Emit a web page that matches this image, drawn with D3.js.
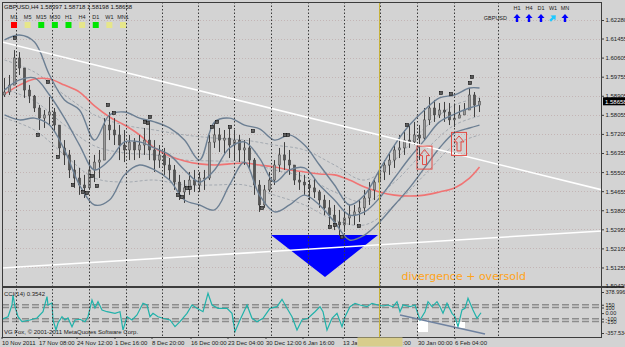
<!DOCTYPE html>
<html>
<head>
<meta charset="utf-8">
<script src="https://cdn.jsdelivr.net/npm/d3@7"></script>
<style>
  body { margin: 0; background: #d3d3d3; }
  svg { display: block; }
  text { font-family: "Liberation Sans", Arial, sans-serif; }
</style>
</head>
<body>
<div id="chart"></div>
<script>
// ---- data (GBPUSD H4) ----
const firstOpen = 1.5894;
const barHigh = [1.5970,1.5983,1.6094,1.6085,1.6005,1.5938,1.5894,1.5849,1.5827,1.5885,
  1.5836,1.5738,1.5693,1.5649,1.5604,1.5569,1.5538,1.5604,1.5627,1.5649,
  1.5791,1.5818,1.5791,1.5760,1.5738,1.5716,1.5702,1.5716,1.5747,1.5769,
  1.5693,1.5671,1.5658,1.5613,1.5582,1.5538,1.5515,1.5551,1.5560,1.5551,
  1.5560,1.5716,1.5774,1.5747,1.5738,1.5747,1.5738,1.5716,1.5693,1.5702,
  1.5613,1.5515,1.5493,1.5551,1.5604,1.5658,1.5684,1.5649,1.5582,1.5551,
  1.5538,1.5515,1.5524,1.5471,1.5449,1.5426,1.5404,1.5382,1.5373,1.5404,
  1.5404,1.5426,1.5471,1.5506,1.5524,1.5560,1.5604,1.5636,1.5671,1.5716,
  1.5738,1.5760,1.5774,1.5760,1.5836,1.5885,1.5872,1.5858,1.5863,1.5858,
  1.5854,1.5849,1.5858,1.5925,1.5907,1.5881];
const barLow = [1.5885,1.5894,1.5961,1.5983,1.5881,1.5858,1.5818,1.5738,1.5747,1.5760,
  1.5729,1.5627,1.5582,1.5524,1.5480,1.5449,1.5435,1.5471,1.5506,1.5524,
  1.5649,1.5693,1.5671,1.5604,1.5595,1.5604,1.5604,1.5613,1.5627,1.5604,
  1.5551,1.5569,1.5538,1.5515,1.5471,1.5426,1.5413,1.5449,1.5462,1.5462,
  1.5471,1.5515,1.5658,1.5640,1.5627,1.5613,1.5604,1.5595,1.5582,1.5569,
  1.5449,1.5373,1.5391,1.5462,1.5493,1.5551,1.5560,1.5538,1.5493,1.5471,
  1.5449,1.5426,1.5435,1.5391,1.5359,1.5315,1.5292,1.5266,1.5284,1.5315,
  1.5315,1.5328,1.5359,1.5404,1.5426,1.5449,1.5515,1.5538,1.5569,1.5613,
  1.5627,1.5658,1.5671,1.5604,1.5693,1.5760,1.5774,1.5791,1.5774,1.5760,
  1.5751,1.5791,1.5805,1.5849,1.5796,1.5818];
const barClose = [1.5907,1.5938,1.6059,1.6014,1.5916,1.5889,1.5836,1.5791,1.5805,1.5818,
  1.5760,1.5658,1.5627,1.5560,1.5524,1.5493,1.5480,1.5560,1.5595,1.5604,
  1.5760,1.5738,1.5716,1.5671,1.5649,1.5684,1.5649,1.5671,1.5693,1.5649,
  1.5604,1.5627,1.5582,1.5560,1.5506,1.5462,1.5480,1.5515,1.5493,1.5524,
  1.5524,1.5684,1.5716,1.5693,1.5702,1.5671,1.5693,1.5649,1.5658,1.5604,
  1.5493,1.5404,1.5471,1.5515,1.5582,1.5627,1.5604,1.5582,1.5515,1.5506,
  1.5493,1.5480,1.5462,1.5426,1.5391,1.5359,1.5328,1.5315,1.5346,1.5359,
  1.5373,1.5391,1.5435,1.5471,1.5506,1.5551,1.5582,1.5604,1.5649,1.5658,
  1.5693,1.5685,1.5716,1.5702,1.5783,1.5836,1.5805,1.5827,1.5818,1.5783,
  1.5791,1.5805,1.5827,1.5894,1.5849,1.5866];

// Bollinger bands (solid) sampled every 3 bars
const bandBars = [0,3,6,9,12,15,18,21,24,27,30,33,36,39,42,45,48,51,54,57,60,63,66,69,72,75,78,81,84,87,90,93,95];
const bbUpper = [1.6139,1.6161,1.6130,1.5983,1.5872,1.5827,1.5693,1.5805,1.5818,1.5791,1.5774,1.5747,1.5693,1.5604,1.5774,1.5791,
  1.5760,1.5743,1.5693,1.5716,1.5671,1.5582,1.5493,1.5404,1.5448,1.5560,1.5671,1.5760,1.5827,1.5881,1.5894,1.5925,1.5925];
const bbMiddle = [1.5916,1.5961,1.5970,1.5894,1.5791,1.5671,1.5560,1.5604,1.5685,1.5685,1.5658,1.5627,1.5560,1.5506,1.5560,1.5658,
  1.5685,1.5613,1.5506,1.5560,1.5569,1.5493,1.5426,1.5359,1.5373,1.5435,1.5524,1.5613,1.5693,1.5774,1.5809,1.5836,1.5849];
const bbLower = [1.5805,1.5783,1.5791,1.5760,1.5649,1.5493,1.5404,1.5426,1.5538,1.5582,1.5560,1.5515,1.5426,1.5404,1.5382,1.5493,
  1.5595,1.5448,1.5373,1.5404,1.5448,1.5404,1.5328,1.5248,1.5270,1.5328,1.5404,1.5480,1.5569,1.5658,1.5725,1.5747,1.5760];
// moving average (red)
const maLine = [1.5898,1.5938,1.5965,1.5965,1.5938,1.5907,1.5845,1.5796,1.5760,1.5716,1.5658,1.5622,1.5600,1.5587,1.5582,1.5587,
  1.5591,1.5582,1.5573,1.5560,1.5551,1.5542,1.5538,1.5515,1.5484,1.5462,1.5448,1.5444,1.5448,1.5462,1.5480,1.5524,1.5573];
// slow envelope (dashed) sampled every 6 bars
const slowBars = [0,6,12,18,24,30,36,42,48,54,60,66,72,78,84,90,95];
const slowUpper = [1.6050,1.5996,1.5894,1.5805,1.5760,1.5738,1.5716,1.5702,1.5693,1.5671,1.5649,1.5582,1.5515,1.5604,1.5747,1.5849,1.5881];
const slowMiddle = [1.5921,1.5867,1.5760,1.5667,1.5636,1.5627,1.5604,1.5600,1.5595,1.5560,1.5529,1.5462,1.5417,1.5506,1.5644,1.5760,1.5800];
const slowLower = [1.5791,1.5738,1.5627,1.5524,1.5506,1.5515,1.5493,1.5493,1.5493,1.5448,1.5404,1.5337,1.5315,1.5404,1.5538,1.5671,1.5716];

// fractal marks [bar, price]
const fractals = [[2.1,1.6148],[8.7,1.5952],[6.7,1.5716],[10.7,1.5618],[20.7,1.5849],[21.9,1.5814],[13.7,1.5493],
  [15.7,1.5462],[16.5,1.5457],[17.5,1.5533],[18.5,1.5488],[28.1,1.5774],[28.7,1.5769],[29.1,1.5796],[34.7,1.5448],
  [35.5,1.5440],[36.5,1.5480],[37.1,1.5480],[41.5,1.5751],[42.5,1.5774],[45.1,1.5751],[49.7,1.5733],[51.5,1.5391],
  [56.1,1.5716],[56.7,1.5716],[65.1,1.5306],[66.1,1.5315],[67.5,1.5261],[70.9,1.5310],[80.5,1.5760],[87.3,1.5903],
  [89.3,1.5898],[93.1,1.5947],[93.5,1.5974]];

// trend lines [bar, price]
const trendUpper = [[-0.5,1.6130],[119.5,1.5471]];
const trendLower = [[-0.5,1.5123],[119.5,1.5288]];
const triangle = [[53.3,1.5270],[74.7,1.5270],[64.1,1.5083]];
const buySignals = [[84,1.5615],[90.9,1.5676]];

// CCI(14) [bar, value]
const cci = [[-0.5,-111],[0.7,-65],[1.5,145],[1.7,325],[2.1,115],[2.7,-65],[3.5,-154],[5.1,-124],[6.5,-88],[7.7,25],
  [8.5,295],[8.7,145],[9.5,181],[9.7,-124],[10.3,-304],[10.7,-178],[11.5,-65],[12.1,-124],[12.7,-88],[13.5,-244],
  [14.1,-124],[15.1,-111],[16.1,-154],[16.7,-65],[17.5,235],[18.1,92],[18.7,205],[19.5,56],[20.5,25],[22.1,-4],
  [23.1,25],[23.7,-304],[24.5,-65],[25.5,-124],[26.5,-34],[27.7,176],[28.5,145],[29.1,-65],[29.7,-4],[30.7,-65],
  [31.7,-93],[33.1,-124],[34.1,-244],[35.1,-154],[36.5,-4],[37.5,145],[38.5,86],[39.7,25],[40.7,356],[41.5,145],
  [42.7,86],[44.5,86],[45.5,-4],[46.1,-334],[47.1,-124],[48.5,145],[49.5,-93],[50.5,-154],[51.7,-93],[53.1,86],
  [54.5,115],[55.5,248],[56.5,86],[57.5,-65],[58.5,-304],[59.5,-124],[60.7,-93],[62.1,25],[63.1,115],[63.7,25],
  [64.5,-304],[65.5,-93],[66.5,-4],[67.5,-244],[68.1,-65],[69.1,115],[70.1,176],[71.1,145],[72.5,115],[73.5,176],
  [74.7,145],[75.7,128],[76.7,145],[77.7,115],[78.5,205],[79.1,25],[79.7,145],[81.1,115],[82.1,145],[83.1,-124],
  [84.1,25],[84.7,205],[85.5,115],[86.5,205],[87.1,115],[87.7,-4],[88.5,176],[89.5,-4],[90.1,-65],[90.7,-244],
  [91.5,56],[92.1,86],[92.7,266],[93.7,56],[94.5,-93],[95.3,6]];
const cciLevels = [150, 100, -100, -150];
const cciTicks = [378.996, 150, 100, 0, -100, -150, -357.534];
const cciTrend = [[79.1,-34],[96.1,-375]];
const cciMarks = [[82.7,84.7,-124,-340],[90.1,92.1,-160,-268]];

// axes
const priceTicks = [1.62280,1.61455,1.60605,1.59755,1.58905,1.58055,1.57205,1.56355,1.55505,1.54655,1.53805,1.52955,1.52105,1.51255,1.50430];
const lastPrice = 1.58658;
const separatorBars = [2.3,9.5,16.9,24.3,31.5,38.7,45.9,53.3,60.7,67.9,75.1,82.5,89.9,98.7];
const timeLabels = ["10 Nov 2011","17 Nov 08:00","24 Nov 12:00","1 Dec 16:00","8 Dec 20:00","16 Dec 00:00","23 Dec 04:00",
  "30 Dec 12:00","6 Jan 16:00","13 Jan 20:00","23 Jan 00:00","30 Jan 00:00","6 Feb 04:00"];
const timeLabelBars = [-0.5,6.9,14.5,22.1,29.5,37.3,44.7,52.3,59.7,67.7,75.1,82.7,90.1];
const vlineBar = 75;

// header panels
const tfNames = ["M1","M5","M15","M30","H1","H4","D1","W1","MN1"];
const tfState = ["red","flat","up","up","up","flat","up","flat","flat"];
const trendNames = ["H1","H4","D1","W1","MN"];
const trendDir = ["up","up","up","upright","up"];
const ohlcText = "GBPUSD,H4  1.58397 1.58718 1.58198 1.58658";

// ---- layout ----
const W = 625, H = 347;
const left = 2, right = 602, mainTop = 2, mainBottom = 286, cciTop = 288, cciBottom = 337;
const small = "6px";

const svg = d3.select("#chart").append("svg").attr("width", W).attr("height", H);
svg.append("rect").attr("width", W).attr("height", H).attr("fill", "#d3d3d3");

const x = d3.scaleLinear().domain([-0.5, 119.5]).range([left, right]);
const y = d3.scaleLinear().domain([1.50430, 1.62280]).range([286, 20]);
const yc = d3.scaleLinear().domain([-357.534, 378.996]).range([333, 292]);

const defs = svg.append("defs");
defs.append("clipPath").attr("id", "clipMain").append("rect")
  .attr("x", left).attr("y", mainTop).attr("width", right - left).attr("height", mainBottom - mainTop);
defs.append("clipPath").attr("id", "clipCci").append("rect")
  .attr("x", left).attr("y", cciTop).attr("width", right - left).attr("height", cciBottom - cciTop);
defs.append("clipPath").attr("id", "clipTime").append("rect")
  .attr("x", 0).attr("y", 0).attr("width", x(vlineBar) - 22).attr("height", 12);

const main = svg.append("g").attr("clip-path", "url(#clipMain)");
const sub = svg.append("g").attr("clip-path", "url(#clipCci)");

// horizontal light grid
main.selectAll(".hgrid").data(priceTicks).enter().append("line")
  .attr("x1", left).attr("x2", right)
  .attr("y1", d => Math.round(y(d)) + 0.5).attr("y2", d => Math.round(y(d)) + 0.5)
  .attr("stroke", "#c3b5b5").attr("stroke-dasharray", "1,2");

// blue triangle (drawn under grid like in the terminal)
main.append("path")
  .attr("d", "M" + triangle.map(d => [x(d[0]), y(d[1])].join(",")).join("L") + "Z")
  .attr("fill", "#0000ff");

// weekly separators in both windows
svg.selectAll(".sep").data(separatorBars).enter().append("line")
  .attr("x1", d => Math.round(x(d)) + 0.5).attr("x2", d => Math.round(x(d)) + 0.5)
  .attr("y1", mainTop).attr("y2", cciBottom)
  .attr("stroke", "#3a3a3a").attr("stroke-dasharray", "1.5,2").attr("stroke-width", 1);

// slow dashed envelope
const slowLine = d3.line().x((d, i) => x(slowBars[i])).y(d => y(d)).curve(d3.curveCatmullRom.alpha(0.5));
[slowUpper, slowMiddle, slowLower].forEach(s => {
  main.append("path").attr("d", slowLine(s)).attr("fill", "none")
    .attr("stroke", "#9ea5ad").attr("stroke-width", 0.9).attr("stroke-dasharray", "3,2");
});

// red moving average
const bandLine = d3.line().x((d, i) => x(bandBars[i])).y(d => y(d)).curve(d3.curveCatmullRom.alpha(0.5));
main.append("path").attr("d", bandLine(maLine)).attr("fill", "none")
  .attr("stroke", "#f07474").attr("stroke-width", 1.6);

// candles
const bars = barClose.map((c, i) => ({
  i, open: i === 0 ? firstOpen : barClose[i - 1], high: barHigh[i], low: barLow[i], close: c
}));
const candle = main.selectAll(".bar").data(bars).enter().append("g");
candle.append("line")
  .attr("x1", d => x(d.i)).attr("x2", d => x(d.i))
  .attr("y1", d => y(Math.max(d.high, d.open))).attr("y2", d => y(Math.min(d.low, d.open)))
  .attr("stroke", "#404040").attr("stroke-width", 1);
candle.append("rect")
  .attr("x", d => x(d.i) - 1.2).attr("width", 2.4)
  .attr("y", d => y(Math.max(d.open, d.close)))
  .attr("height", d => Math.max(1, Math.abs(y(d.open) - y(d.close))))
  .attr("fill", d => d.close >= d.open ? "#9c9c9c" : "#555555")
  .attr("stroke", "#404040").attr("stroke-width", 0.5);

// Bollinger bands
[bbUpper, bbMiddle, bbLower].forEach(s => {
  main.append("path").attr("d", bandLine(s)).attr("fill", "none")
    .attr("stroke", "#6c7f93").attr("stroke-width", 1.4);
});

// fractal marks
const fr = main.selectAll(".fr").data(fractals).enter().append("g")
  .attr("transform", d => `translate(${x(d[0])},${y(d[1])})`);
fr.append("rect").attr("x", -1.5).attr("y", -1.5).attr("width", 3).attr("height", 3)
  .attr("fill", "#bdbdbd").attr("stroke", "#111").attr("stroke-width", 0.7);
fr.append("path").attr("d", "M-1,-1L1,1M1,-1L-1,1").attr("stroke", "#111").attr("stroke-width", 0.6);

// white trend lines
[trendUpper, trendLower].forEach(t => {
  main.append("line")
    .attr("x1", x(t[0][0])).attr("y1", y(t[0][1])).attr("x2", x(t[1][0])).attr("y2", y(t[1][1]))
    .attr("stroke", "#ffffff").attr("stroke-width", 1.6);
});

// buy signal boxes
const sig = main.selectAll(".sig").data(buySignals).enter().append("g")
  .attr("transform", d => `translate(${x(d[0])},${y(d[1])})`);
sig.append("rect").attr("x", -7.5).attr("y", -11.5).attr("width", 15).attr("height", 23)
  .attr("fill", "none").attr("stroke", "#e34b45").attr("stroke-width", 1);
sig.append("path").attr("d", "M0,-8L5,-2L2,-2L2,7L-2,7L-2,-2L-5,-2Z")
  .attr("fill", "none").attr("stroke", "#e34b45").attr("stroke-width", 1);

// text label
main.append("text").attr("x", x(79.4)).attr("y", y(1.5070))
  .attr("fill", "#ffa31a").style("font-family", "'DejaVu Sans', sans-serif").style("font-size", "11px")
  .text("divergence + oversold");

// ---- CCI window ----
sub.selectAll(".lvl").data(cciLevels).enter().append("line")
  .attr("x1", left).attr("x2", right)
  .attr("y1", d => yc(d)).attr("y2", d => yc(d))
  .attr("stroke", "#8c8c8c").attr("stroke-width", 1.5).attr("stroke-dasharray", "7,3");
sub.selectAll(".mk").data(cciMarks).enter().append("rect")
  .attr("x", d => x(d[0])).attr("width", d => x(d[1]) - x(d[0]))
  .attr("y", d => yc(d[2])).attr("height", d => yc(d[3]) - yc(d[2]))
  .attr("fill", "#ffffff");
sub.append("path")
  .attr("d", d3.line().x(d => x(d[0])).y(d => yc(d[1]))(cci))
  .attr("fill", "none").attr("stroke", "#20b2aa").attr("stroke-width", 1.2);
sub.append("line")
  .attr("x1", x(cciTrend[0][0])).attr("y1", yc(cciTrend[0][1]))
  .attr("x2", x(cciTrend[1][0])).attr("y2", yc(cciTrend[1][1]))
  .attr("stroke", "#6f82a0").attr("stroke-width", 1.5);

// yellow vertical line
svg.append("line").attr("x1", x(vlineBar)).attr("x2", x(vlineBar)).attr("y1", mainTop).attr("y2", cciBottom)
  .attr("stroke", "#c7b23c").attr("stroke-width", 1);

// frames
svg.append("rect").attr("x", left + 0.5).attr("y", mainTop + 0.5).attr("width", right - left - 1).attr("height", cciBottom - mainTop)
  .attr("fill", "none").attr("stroke", "#3c3c3c").attr("stroke-width", 1);
svg.append("line").attr("x1", left).attr("x2", right + 22).attr("y1", 287).attr("y2", 287)
  .attr("stroke", "#3c3c3c").attr("stroke-width", 2);

// price axis
const pAxis = svg.append("g").attr("transform", `translate(${right},0)`)
  .call(d3.axisRight(y).tickValues(priceTicks).tickFormat(d3.format(".5f")).tickSize(2).tickPadding(1.5));
pAxis.select(".domain").remove();
pAxis.selectAll("line").attr("stroke", "#3c3c3c");
pAxis.selectAll("text").attr("fill", "#222").style("font-size", small);

// last price marker
svg.append("rect").attr("x", right + 1).attr("y", y(lastPrice) - 4).attr("width", 22).attr("height", 8).attr("fill", "#000");
svg.append("text").attr("x", right + 3).attr("y", y(lastPrice) + 2.2).attr("fill", "#fff")
  .style("font-size", small).text(d3.format(".5f")(lastPrice));

// CCI axis
const cAxis = svg.append("g").attr("transform", `translate(${right},0)`)
  .call(d3.axisRight(yc).tickValues(cciTicks).tickFormat(d => (d === 0 ? "0.00" : String(d))).tickSize(2).tickPadding(1.5));
cAxis.select(".domain").remove();
cAxis.selectAll("line").attr("stroke", "#3c3c3c");
cAxis.selectAll("text").attr("fill", "#222").style("font-size", "5.5px");

// time axis
const tAxis = svg.append("g").attr("transform", `translate(0,${cciBottom})`);
timeLabels.forEach((t, i) => {
  const tx = x(timeLabelBars[i]);
  tAxis.append("line").attr("x1", tx).attr("x2", tx).attr("y1", 0).attr("y2", 2).attr("stroke", "#3c3c3c");
  const hidden = tx > x(vlineBar) - 40 && tx < x(vlineBar) + 20;
  tAxis.append("text").attr("x", tx).attr("y", 8).attr("fill", "#222").style("font-size", small)
    .attr("clip-path", hidden && tx < x(vlineBar) ? "url(#clipTime)" : null)
    .text(hidden && tx >= x(vlineBar) ? t.slice(-3) : t)
    .attr("x", hidden && tx >= x(vlineBar) ? x(vlineBar) + 23 : tx);
});
tAxis.append("rect").attr("x", x(vlineBar) - 22).attr("y", 0.5).attr("width", 45).attr("height", 9).attr("fill", "#d8cd8c");

// CCI captions
svg.append("text").attr("x", 4).attr("y", 296).attr("fill", "#222").style("font-size", small).text("CCI(14) 0.3542");
svg.append("text").attr("x", 4).attr("y", 334).attr("fill", "#222").style("font-size", small)
  .text("VG Fox, © 2001-2011 MetaQuotes Software Corp.");

// header: OHLC
svg.append("text").attr("x", 4).attr("y", 9).attr("fill", "#111").style("font-size", small).text(ohlcText);

// header: timeframe squares
const tfColor = { red: "#ff0000", flat: "#e6e68a", up: "#00e600" };
const tfX = d3.scalePoint().domain(tfNames).range([14, 123]);
tfNames.forEach((n, i) => {
  svg.append("text").attr("x", tfX(n)).attr("y", 19).attr("text-anchor", "middle")
    .attr("fill", "#222").style("font-size", "5.5px").text(n);
  svg.append("rect").attr("x", tfX(n) - 3).attr("y", 22).attr("width", 6).attr("height", 6).attr("fill", tfColor[tfState[i]]);
});

// header: trend arrows
const trX = d3.scalePoint().domain(trendNames).range([517, 565]);
svg.append("text").attr("x", 507).attr("y", 20).attr("text-anchor", "end").attr("fill", "#222")
  .style("font-size", "5.5px").text("GBPUSD");
trendNames.forEach((n, i) => {
  svg.append("text").attr("x", trX(n)).attr("y", 10).attr("text-anchor", "middle")
    .attr("fill", "#222").style("font-size", "5.5px").text(n);
  svg.append("path").attr("d", "M0,-4L3.5,0L1.2,0L1.2,4L-1.2,4L-1.2,0L-3.5,0Z")
    .attr("transform", `translate(${trX(n)},18)` + (trendDir[i] === "upright" ? " rotate(45)" : ""))
    .attr("fill", trendDir[i] === "upright" ? "#1ec8ff" : "#0000ff");
});
</script>
</body>
</html>
